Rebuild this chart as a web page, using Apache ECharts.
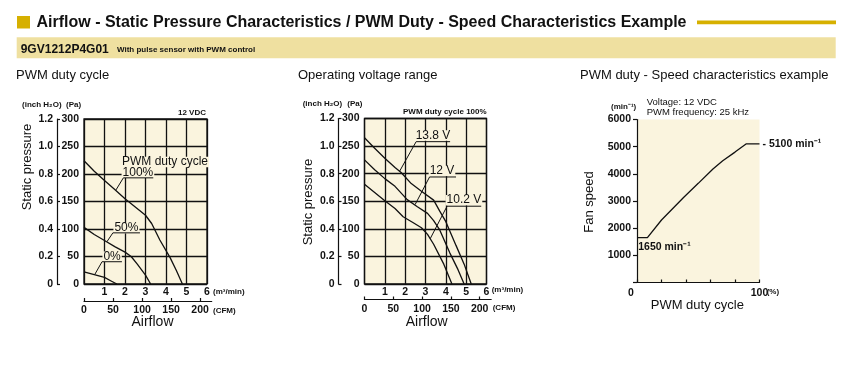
<!DOCTYPE html>
<html><head><meta charset="utf-8">
<script src="https://cdn.jsdelivr.net/npm/echarts@6/dist/echarts.min.js"></script>
<style>html,body{margin:0;padding:0;background:#fff;}#c{width:847px;height:368px;}</style>
</head><body><div id="c"></div>
<script>
// ---------- DATA ----------
// Chart 1: PWM duty cycle (airflow m3/min, static pressure Pa)
const pwm100 = [[0,224],[0.5,205],[1,188],[1.5,172],[2,155],[2.5,140],[3,125],[3.3,110],[3.7,80],[4.2,48],[4.5,25],[4.8,0]];
const pwm50  = [[0,103],[0.5,90],[1,79],[1.5,68],[2,58],[2.3,50],[2.6,36],[3,16],[3.25,0]];
const pwm0   = [[0,22],[0.5,17],[1,12],[1.3,6],[1.6,0]];
// Chart 2: Operating voltage range
const v138 = [[0,265],[0.5,246],[1,228],[1.5,211],[1.8,202],[2.3,182],[2.8,168],[3.4,152],[3.7,132],[4,113],[4.5,70],[4.9,36],[5.25,0]];
const v120 = [[0,225],[0.5,207],[1,191],[1.5,177],[2.1,153],[2.6,140],[3.1,128],[3.4,115],[3.7,98],[4.2,56],[4.6,26],[4.9,0]];
const v102 = [[0,181],[0.5,166],[1,151],[1.5,137],[1.9,122],[2.4,111],[2.8,102],[3.1,90],[3.4,72],[3.9,36],[4.3,0]];
// Chart 3: PWM duty - speed
const dutyPct = [0,8.5,20,38,50,62,70,80,89,100];
const fanSpeed = [1650,1650,2300,3130,3650,4180,4480,4800,5100,5100];
// Tick labels
const m3Ticks = [1,2,3,4,5,6];
const cfmTicks = [0,50,100,150,200];
const paTicks = [0,50,100,150,200,250,300];
const inchTicks = [0,0.2,0.4,0.6,0.8,1.0,1.2];
const speedTicks = [1000,2000,3000,4000,5000,6000];
const dutyTicks = [0,100];
// Annotations (data units): leader line [curve point, underline start, underline end], label
const ann1 = [
  {text:'100%', leader:[[1.56,171],[1.92,193],[3.38,193]], at:[2.63,202.5]},
  {text:'50%',  leader:[[1.12,77],[1.41,93],[2.73,93]], at:[2.07,101.5]},
  {text:'0%',   leader:[[0.52,17],[0.88,40.5],[1.85,40.5]], at:[1.37,49.6]}
];
const ann1Title = {text:'PWM duty cycle', at:[3.95,222]};
const ann2 = [
  {text:'13.8 V', leader:[[1.72,204],[2.54,258],[4.21,258]], at:[3.37,269]},
  {text:'12 V',   leader:[[2.49,144],[3.2,194],[4.5,194]], at:[3.81,205]},
  {text:'10.2 V', leader:[[3.23,82],[4.06,141],[5.74,141]], at:[4.89,152]}
];

// ---------- STYLE ----------
const NARROW = "'Liberation Sans Narrow','Liberation Sans',Arial,sans-serif";
const SANS = "'Liberation Sans',Arial,sans-serif";
const BG = '#faf4de';
const K = '#111';

function mainGrid(left, top, width, height){
  return {left, top, width, height, show:true, backgroundColor:BG, borderColor:K, borderWidth:1.3, containLabel:false};
}
function m3Axis(gi){
  return {type:'value', gridIndex:gi, min:0, max:6, interval:1,
    axisLine:{show:false}, axisTick:{show:false},
    splitLine:{show:true, lineStyle:{color:K, width:1.3}},
    axisLabel:{customValues:m3Ticks, margin:3, fontFamily:NARROW, fontWeight:'bold', fontSize:10.5, color:K}};
}
function cfmAxis(gi){
  return {type:'value', gridIndex:gi, min:0, max:220, position:'bottom',
    axisLine:{show:true, lineStyle:{color:K, width:1.2}},
    axisTick:{show:true, inside:true, length:3, customValues:cfmTicks, lineStyle:{color:K, width:1.2}},
    splitLine:{show:false},
    axisLabel:{customValues:cfmTicks, margin:4, fontFamily:NARROW, fontWeight:'bold', fontSize:10.5, color:K}};
}
function paAxis(gi){
  return {type:'value', gridIndex:gi, min:0, max:300, interval:50,
    axisLine:{show:false}, axisTick:{show:false},
    splitLine:{show:true, lineStyle:{color:K, width:1.3}},
    axisLabel:{customValues:paTicks, margin:5, fontFamily:NARROW, fontWeight:'bold', fontSize:10.5, color:K}};
}
function inchAxis(gi, off){
  return {type:'value', gridIndex:gi, min:0, max:1.2, interval:0.2, offset:off, position:'left',
    axisLine:{show:true, lineStyle:{color:K, width:1.2}},
    axisTick:{show:true, inside:true, length:3, lineStyle:{color:K, width:1.2}},
    splitLine:{show:false},
    axisLabel:{margin:4, fontFamily:NARROW, fontWeight:'bold', fontSize:10.5, color:K,
      formatter:v=> v===0 ? '0' : v.toFixed(1)}};
}
function curve(data, xi, yi){
  return {type:'line', xAxisIndex:xi, yAxisIndex:yi, data, symbol:'none', silent:true,
    lineStyle:{color:K, width:1.3}, clip:false, z:5};
}
function annLabel(text){
  return {show:true, formatter:text, position:'inside', color:K, fontFamily:SANS, fontSize:12,
    backgroundColor:BG, padding:[0,1,0,1], lineHeight:10.5};
}
function leader(a, xi, yi){
  return {type:'line', xAxisIndex:xi, yAxisIndex:yi, data:a.leader, symbol:'none', silent:true,
    lineStyle:{color:K, width:1}, clip:false, z:6,
    markPoint:{symbol:'circle', symbolSize:0, silent:true,
      data:[{coord:a.at, label:annLabel(a.text)}]}};
}

const series = [
  curve(pwm100,0,0), curve(pwm50,0,0), curve(pwm0,0,0),
  {type:'line', xAxisIndex:0, yAxisIndex:0, data:[], symbol:'none', silent:true,
    markPoint:{symbol:'circle', symbolSize:0, silent:true,
      data:[{coord:ann1Title.at, label:annLabel(ann1Title.text)}]}},
  ...ann1.map(a=>leader(a,0,0)),
  curve(v138,2,3), curve(v120,2,3), curve(v102,2,3),
  ...ann2.map(a=>leader(a,2,3)),
  {type:'line', xAxisIndex:4, yAxisIndex:6, data:dutyPct.map((d,i)=>[d,fanSpeed[i]]), symbol:'none', silent:true,
    lineStyle:{color:K, width:1.3}, clip:false, z:5,
    markPoint:{symbol:'circle', symbolSize:0, silent:true,
      data:[
        {coord:[dutyPct[dutyPct.length-1], fanSpeed[fanSpeed.length-1]], label:{show:true, position:'right', distance:3, formatter:'- ' + fanSpeed[fanSpeed.length-1]+' min⁻¹', color:K, fontFamily:NARROW, fontWeight:'bold', fontSize:10.5}},
        {coord:[1, 1320], label:{show:true, position:'inside', align:'left', formatter:fanSpeed[0]+' min⁻¹', color:K, fontFamily:NARROW, fontWeight:'bold', fontSize:10.5}}
      ]}}
];

function T(x, y, text, font, extra){
  return Object.assign({type:'text', x, y, silent:true,
    style:Object.assign({text, font, fill:K, verticalAlign:'middle', align:'left'}, extra||{})});
}
function TR(x, y, text, font){
  return {type:'text', x, y, rotation:Math.PI/2, silent:true,
    style:{text, font, fill:K, align:'center', verticalAlign:'middle'}};
}
const small = "bold 8px " + NARROW;
const graphic = [
  {type:'rect', shape:{x:17, y:16, width:13, height:12.5}, style:{fill:'#d6b000'}, silent:true},
  T(36.5, 22.5, 'Airflow - Static Pressure Characteristics / PWM Duty - Speed Characteristics Example', "bold 16px " + SANS),
  {type:'rect', shape:{x:697, y:20.5, width:139, height:3.7}, style:{fill:'#d6b000'}, silent:true},
  {type:'rect', shape:{x:16.7, y:37.3, width:819, height:21}, style:{fill:'#efe0a0'}, silent:true},
  T(20.7, 49.5, '9GV1212P4G01', "bold 12px " + SANS),
  T(117, 50, 'With pulse sensor with PWM control', "bold 8px " + NARROW),
  T(16, 75, 'PWM duty cycle', "13px " + SANS),
  T(298, 75, 'Operating voltage range', "13px " + SANS),
  T(580, 75, 'PWM duty - Speed characteristics example', "13px " + SANS),
  // chart 1
  T(22, 105, '(inch H₂O)', small), T(66, 105, '(Pa)', small),
  T(178, 113, '12 VDC', small),
  TR(27, 167, 'Static pressure', "13px " + SANS),
  T(213, 292, '(m³/min)', small), T(213, 311, '(CFM)', small),
  T(152.5, 322, 'Airflow', "14px " + SANS, {align:'center'}),
  // chart 2
  T(302.7, 104, '(inch H₂O)', small), T(347.3, 104, '(Pa)', small),
  T(403, 111.7, 'PWM duty cycle 100%', small),
  TR(308, 202, 'Static pressure', "13px " + SANS),
  T(491.7, 290, '(m³/min)', small), T(492.7, 308, '(CFM)', small),
  T(426.7, 322, 'Airflow', "14px " + SANS, {align:'center'}),
  // chart 3
  T(611, 106.7, '(min⁻¹)', small),
  T(646.7, 102.3, 'Voltage: 12 VDC', "9.5px " + SANS),
  T(646.7, 112.7, 'PWM frequency: 25 kHz', "9.5px " + SANS),
  TR(589.3, 202, 'Fan speed', "13px " + SANS),
  T(766.7, 292, '(%)', small),
  T(697.3, 305, 'PWM duty cycle', "13px " + SANS, {align:'center'})
];

const option = {
  animation:false,
  grid:[
    mainGrid(84,119,123,165),
    {left:84, top:300, width:127.7, height:1, show:false},
    mainGrid(364.5,118.5,122,165.5),
    {left:364.5, top:298.5, width:126.7, height:1, show:false},
    {left:637, top:119.5, width:122.5, height:163, show:true, backgroundColor:BG, borderWidth:0}
  ],
  xAxis:[
    m3Axis(0), cfmAxis(1), m3Axis(2), cfmAxis(3),
    {type:'value', gridIndex:4, min:0, max:100, interval:20,
      axisLine:{show:true, lineStyle:{color:K, width:1.2}},
      axisTick:{show:true, inside:true, length:3, lineStyle:{color:K, width:1.2}},
      splitLine:{show:false},
      axisLabel:{customValues:dutyTicks, margin:5, fontFamily:NARROW, fontWeight:'bold', fontSize:10.5, color:K,
        formatter:v=> v===0 ? '{z|0}' : String(v),
        rich:{z:{padding:[0,12,0,0], fontFamily:NARROW, fontWeight:'bold', fontSize:10.5, color:K}}}}
  ],
  yAxis:[
    paAxis(0), inchAxis(0,27),
    {type:'value', gridIndex:1, show:false},
    paAxis(2), inchAxis(2,26),
    {type:'value', gridIndex:3, show:false},
    {type:'value', gridIndex:4, min:0, max:6000, interval:1000,
      axisLine:{show:true, lineStyle:{color:K, width:1.2}},
      axisTick:{show:true, inside:false, length:4, lineStyle:{color:K, width:1.2}},
      splitLine:{show:false},
      axisLabel:{customValues:speedTicks, margin:6, fontFamily:NARROW, fontWeight:'bold', fontSize:10.5, color:K,
        formatter:v=>String(v)}}
  ],
  series,
  graphic
};
const chart = echarts.init(document.getElementById('c'), null, {renderer:'canvas'});
chart.setOption(option);
</script></body></html>
